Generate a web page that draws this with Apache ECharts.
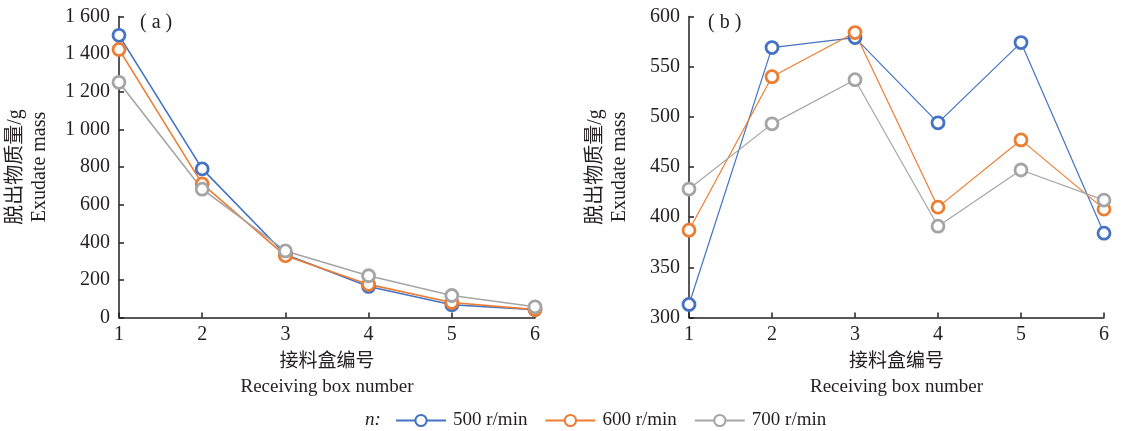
<!DOCTYPE html>
<html>
<head>
<meta charset="utf-8">
<script src="https://cdn.jsdelivr.net/npm/echarts@6/dist/echarts.min.js"></script>
<style>
	html, body { margin: 0; padding: 0; background: #fff; }
	#main { width: 1124px; height: 431px; }
</style>
</head>
<body>
<div id="main"></div>
<script>
	// 接料盒编号
	const boxes = ['1', '2', '3', '4', '5', '6'];
	const seriesNames = ['500 r/min', '600 r/min', '700 r/min'];

	// (a) 脱出物质量
	const massA500 = [1500, 790, 335, 165, 68, 42];
	const massA600 = [1425, 710, 328, 176, 80, 42];
	const massA700 = [1250, 682, 354, 222, 117, 57];

	// (b)
	const massB500 = [313, 569, 579, 494, 574, 384];
	const massB600 = [387, 540, 584, 410, 477, 408];
	const massB700 = [428, 493, 537, 391, 447, 417];

	const colors = ['#4472C4', '#ED7D31', '#A5A5A5'];
	const serif = '"Liberation Serif", "Noto Sans CJK SC", serif';
	const axisColor = '#231f20';

	function thousands(v) {
		if (v >= 1000) {
			return Math.floor(v / 1000) + ' ' + String(v % 1000).padStart(3, '0');
		}
		return String(v);
	}

	function xAxis(idx) {
		return {
			type: 'category',
			gridIndex: idx,
			data: boxes,
			boundaryGap: false,
			name: '接料盒编号\nReceiving box number',
			nameLocation: 'middle',
			nameGap: 26,
			nameTextStyle: { fontFamily: serif, fontSize: 19, color: axisColor, lineHeight: 25 },
			axisLine: { lineStyle: { color: axisColor, width: 1.5 } },
			axisTick: { inside: true, length: 5, alignWithLabel: true, lineStyle: { color: axisColor, width: 1.5 } },
			axisLabel: { fontFamily: serif, fontSize: 20, color: axisColor, margin: 7 },
			splitLine: { show: false }
		};
	}

	function yAxis(idx, min, max, interval, gap) {
		return {
			type: 'value',
			gridIndex: idx,
			min: min,
			max: max,
			interval: interval,
			name: '脱出物质量/g\nExudate mass',
			nameLocation: 'middle',
			nameRotate: 90,
			nameGap: gap,
			nameTextStyle: { fontFamily: serif, fontSize: 20, color: axisColor, lineHeight: 24 },
			axisLine: { show: true, lineStyle: { color: axisColor, width: 1.5 } },
			axisTick: { show: true, inside: true, length: 5, lineStyle: { color: axisColor, width: 1.5 } },
			axisLabel: { fontFamily: serif, fontSize: 20, color: axisColor, margin: 9, formatter: thousands },
			splitLine: { show: false }
		};
	}

	function line(name, data, idx, color, width) {
		return {
			name: name,
			type: 'line',
			xAxisIndex: idx,
			yAxisIndex: idx,
			data: data,
			symbol: 'circle',
			symbolSize: 12,
			showAllSymbol: true,
			lineStyle: { color: color, width: width },
			itemStyle: { color: '#fff', borderColor: color, borderWidth: 2.8 },
			emphasis: { disabled: true },
			animation: false
		};
	}

	const chart = echarts.init(document.getElementById('main'));
	const option = {
		animation: false,
		color: colors,
		grid: [
			{ left: 119, top: 16.5, width: 416, height: 301 },
			{ left: 689, top: 16.5, width: 415, height: 301 }
		],
		xAxis: [xAxis(0), xAxis(1)],
		yAxis: [yAxis(0, 0, 1600, 200, 67), yAxis(1, 300, 600, 50, 57)],
		legend: {
			data: seriesNames,
			left: 390,
			top: 406,
			itemWidth: 50,
			itemHeight: 14,
			itemGap: 17,
			textStyle: { fontFamily: serif, fontSize: 19, color: axisColor, padding: [0, 0, 0, 2] }
		},
		graphic: [
			{ type: 'text', left: 140, top: 13, style: { text: '( a )', font: '20px ' + serif, fill: axisColor } },
			{ type: 'text', left: 708, top: 13, style: { text: '( b )', font: '20px ' + serif, fill: axisColor } },
			{ type: 'text', left: 365, top: 410, style: { text: 'n:', font: 'italic 19px ' + serif, fill: axisColor } }
		],
		series: [
			line(seriesNames[0], massA500, 0, colors[0], 1.6),
			line(seriesNames[1], massA600, 0, colors[1], 1.6),
			line(seriesNames[2], massA700, 0, colors[2], 1.6),
			line(seriesNames[0], massB500, 1, colors[0], 1.2),
			line(seriesNames[1], massB600, 1, colors[1], 1.2),
			line(seriesNames[2], massB700, 1, colors[2], 1.2)
		]
	};
	chart.setOption(option);
</script>
</body>
</html>
